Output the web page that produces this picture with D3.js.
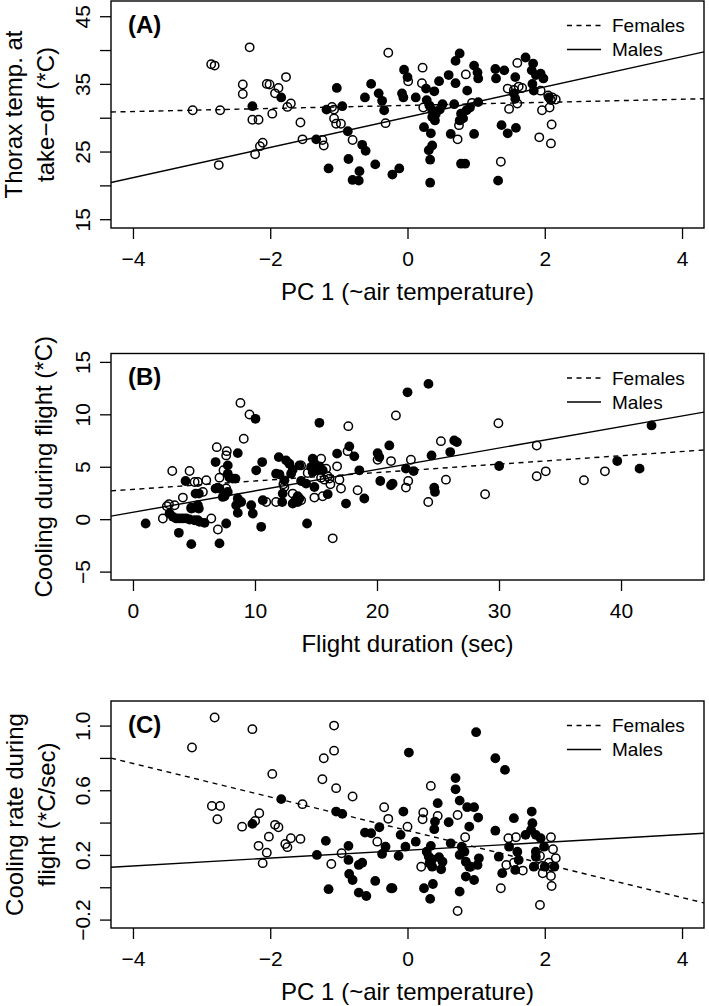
<!DOCTYPE html>
<html><head><meta charset="utf-8">
<script src="https://cdn.jsdelivr.net/npm/d3@7"></script>
<style>
body{margin:0;background:#fff}
svg{display:block;background:#fff}
text{font-family:"Liberation Sans",Arial,Helvetica,sans-serif;fill:#000}
</style>
</head><body>
<svg id="c" width="709" height="1006"></svg>
<script>
// ---------------- DATA ----------------
// Panel A: PC1 (~air temperature) vs thorax temperature at take-off (°C)
const femalesA = [[-3.13,31.1],[-2.86,37.9],[-2.81,37.7],[-2.75,23.0],[-2.73,31.1],[-2.30,40.4],[-2.40,34.9],[-2.40,33.5],[-2.26,29.7],[-2.17,29.7],[-2.22,24.6],[-2.15,25.8],[-2.11,26.3],[-2.05,35.0],[-2.01,34.9],[-1.97,30.6],[-1.93,33.6],[-1.88,34.4],[-1.77,36.0],[-1.75,31.6],[-1.70,32.1],[-1.56,29.3],[-1.53,26.8],[-1.24,26.7],[-1.22,25.9],[-1.10,31.6],[-1.07,31.2],[-1.07,29.9],[-1.04,29.1],[-0.97,29.1],[-0.80,26.7],[-0.32,29.2],[-0.28,39.6],[0.01,35.4],[0.22,37.4],[0.21,35.1],[0.23,31.5],[0.85,36.4],[0.94,32.2],[0.75,28.9],[0.73,26.8],[1.36,23.5],[1.60,38.1],[1.46,34.3],[1.55,34.1],[1.62,34.6],[1.67,34.4],[1.60,32.1],[1.48,31.3],[1.92,27.1],[2.09,26.2],[2.10,29.0],[1.96,31.1],[2.07,31.5],[2.05,33.3],[2.11,33.0],[2.16,32.7],[2.09,32.6],[1.94,34.0]];
const malesA = [[-2.26,31.7],[-1.84,33.0],[-1.33,26.8],[-1.18,31.2],[-1.03,34.4],[-0.95,31.7],[-0.87,28.0],[-1.15,22.5],[-0.86,23.9],[-0.80,20.8],[-0.71,20.7],[-0.70,22.1],[-0.66,26.0],[-0.61,25.1],[-0.47,23.1],[-0.53,35.0],[-0.62,33.0],[-0.42,33.6],[-0.37,32.5],[-0.34,31.1],[-0.22,21.6],[-0.12,22.5],[0.33,20.4],[0.33,23.8],[0.31,25.2],[0.36,25.9],[0.24,28.6],[0.34,27.7],[-0.05,37.1],[0.00,36.0],[-0.08,33.6],[-0.06,33.0],[0.12,33.0],[0.27,34.3],[0.39,33.9],[0.46,35.4],[0.28,32.6],[0.32,31.8],[0.36,31.1],[0.41,30.5],[0.36,30.1],[0.40,29.6],[0.47,31.2],[0.51,32.0],[0.60,36.3],[0.70,35.1],[0.76,39.5],[0.70,38.4],[0.87,34.0],[0.97,37.7],[1.02,36.7],[1.03,35.8],[0.68,32.0],[0.78,30.6],[0.81,29.9],[0.86,31.1],[0.91,31.5],[0.76,29.6],[1.03,32.3],[0.63,27.6],[0.97,27.6],[0.78,23.2],[0.84,23.2],[1.28,37.2],[1.29,35.8],[1.41,37.0],[1.57,36.0],[1.55,33.6],[1.57,32.8],[1.37,28.9],[1.46,27.7],[1.58,28.5],[1.32,20.7],[1.72,38.9],[1.83,38.0],[1.81,37.0],[1.87,36.3],[1.94,36.5],[1.98,35.8],[1.82,35.0],[1.84,34.0],[2.06,33.0]];
// fitted lines [intercept, slope]
const fitFemalesA = [31.82, 0.227];
const fitMalesA = [30.08, 2.236];

// Panel B: flight duration (sec) vs cooling during flight (°C)
const femalesB = [[8.81,11.09],[9.55,9.98],[9.08,7.67],[6.87,6.87],[7.69,6.49],[7.64,6.08],[3.22,4.59],[4.64,4.59],[5.05,3.55],[5.32,3.55],[6.01,3.71],[5.73,2.60],[7.09,3.96],[7.42,4.66],[7.64,2.92],[4.09,2.06],[2.78,1.24],[2.95,1.43],[3.41,1.33],[2.45,0.07],[4.78,1.02],[6.42,0.07],[6.96,-0.98],[10.92,1.64],[11.73,1.64],[12.33,3.33],[12.41,3.07],[13.09,2.44],[17.65,8.87],[21.55,9.89],[25.24,7.44],[17.59,6.49],[15.42,5.77],[13.78,5.13],[14.32,4.40],[15.83,4.82],[15.96,4.09],[16.73,5.04],[15.42,3.96],[15.69,3.77],[16.10,3.87],[16.92,3.77],[16.18,3.33],[17.05,2.92],[18.41,2.76],[14.87,2.06],[15.55,2.19],[13.78,1.81],[20.05,5.67],[21.15,5.54],[22.78,5.67],[22.56,3.64],[22.37,3.01],[25.65,3.77],[24.20,1.64],[16.37,-1.83],[29.95,9.15],[33.09,7.03],[33.09,4.09],[33.83,4.56],[36.96,3.71],[38.68,4.56],[28.86,2.38]];
const malesB = [[1.04,-0.41],[3.76,-1.30],[4.78,-2.38],[7.09,-2.31],[7.64,-0.41],[8.59,6.30],[10.04,9.57],[6.77,5.45],[7.77,5.13],[4.31,3.64],[5.40,2.44],[5.13,2.44],[6.77,2.92],[7.09,2.92],[7.91,3.96],[8.18,3.87],[8.40,3.87],[7.77,4.34],[7.36,2.12],[7.50,2.19],[7.77,2.60],[3.00,0.54],[3.28,0.22],[3.55,0.07],[3.82,0.07],[4.09,0.07],[4.37,0.07],[4.64,-0.03],[5.05,-0.10],[5.32,-0.10],[5.46,-0.26],[5.87,-0.35],[4.78,1.11],[5.05,1.11],[5.32,1.33],[5.40,1.02],[8.59,1.97],[8.87,1.64],[8.46,1.33],[8.59,0.60],[9.69,1.33],[9.82,0.54],[10.51,-0.73],[10.64,1.81],[10.10,4.66],[10.59,5.45],[11.95,5.92],[12.55,5.61],[12.82,5.29],[13.09,4.72],[12.96,4.34],[11.73,4.34],[12.00,4.28],[12.41,3.71],[12.27,2.44],[12.23,1.64],[13.09,1.49],[13.31,1.81],[22.50,12.10],[15.28,9.19],[17.73,6.94],[18.14,5.99],[16.73,6.25],[13.64,5.13],[14.73,5.77],[14.87,5.29],[14.60,4.97],[15.01,4.72],[15.28,5.04],[15.55,4.66],[14.73,4.50],[15.14,4.66],[13.78,3.64],[14.19,3.39],[14.87,3.07],[13.50,2.19],[13.64,1.97],[13.50,1.64],[15.96,2.38],[17.46,1.49],[18.96,1.97],[18.55,4.66],[20.05,6.30],[20.19,5.92],[21.01,7.03],[20.27,3.64],[21.15,3.23],[21.28,3.39],[22.37,4.82],[23.00,4.59],[24.47,6.08],[24.69,3.01],[24.75,2.60],[26.00,6.40],[26.33,7.51],[26.55,7.35],[14.27,-0.41],[24.22,12.90],[30.01,5.07],[39.69,5.54],[41.52,4.82],[42.50,8.94]];
const fitFemalesB = [2.84, 0.0803];
const fitMalesB = [0.66, 0.204];

// Panel C: PC1 (~air temperature) vs cooling rate during flight (°C/sec)
const femalesC = [[-3.14,0.864],[-2.81,1.050],[-2.85,0.503],[-2.73,0.503],[-2.77,0.421],[-2.26,0.978],[-1.97,0.701],[-2.16,0.458],[-2.22,0.410],[-2.41,0.375],[-2.02,0.313],[-1.93,0.386],[-1.88,0.371],[-2.17,0.256],[-2.05,0.214],[-2.11,0.149],[-1.70,0.303],[-1.56,0.299],[-1.78,0.268],[-1.75,0.248],[-1.53,0.514],[-1.07,1.000],[-1.07,0.845],[-1.22,0.798],[-1.24,0.668],[-1.04,0.613],[-0.80,0.561],[-0.96,0.210],[-1.11,0.144],[-0.34,0.495],[-0.28,0.423],[-0.44,0.282],[0.34,0.627],[0.00,0.375],[0.23,0.462],[0.22,0.421],[0.44,0.441],[0.73,0.447],[0.84,0.309],[0.20,0.127],[0.92,0.127],[0.73,-0.147],[1.36,-0.006],[1.47,0.303],[1.58,0.309],[1.44,0.138],[1.55,0.152],[1.68,0.103],[1.93,-0.110],[2.09,0.309],[2.12,0.235],[2.16,0.179],[1.93,0.194],[1.96,0.132],[2.06,0.152],[2.10,0.127],[1.97,0.087],[2.09,0.070],[2.10,0.008]];
const malesC = [[-1.84,0.545],[-2.26,0.392],[-1.04,0.468],[-0.95,0.454],[-1.19,0.287],[-1.32,0.200],[-0.86,0.256],[-0.86,0.169],[-0.71,0.138],[-0.66,0.152],[-0.85,0.082],[-0.80,0.045],[-1.15,-0.012],[-0.71,-0.033],[-0.60,-0.054],[-0.47,0.039],[-0.24,-0.006],[-0.62,0.338],[-0.53,0.334],[-0.41,0.371],[-0.32,0.251],[-0.37,0.206],[1.00,0.959],[0.02,0.833],[1.28,0.798],[1.42,0.726],[0.70,0.675],[0.70,0.606],[0.44,0.520],[0.76,0.536],[0.87,0.495],[0.97,0.495],[1.03,0.431],[-0.06,0.468],[-0.10,0.324],[0.40,0.406],[0.39,0.359],[0.60,0.402],[0.90,0.375],[0.12,0.282],[-0.03,0.251],[0.63,0.272],[0.34,0.256],[0.28,0.220],[0.31,0.189],[0.36,0.173],[0.32,0.149],[0.36,0.127],[0.46,0.186],[0.51,0.158],[0.49,0.111],[0.79,0.251],[0.76,0.200],[0.83,0.220],[0.85,0.158],[0.90,0.127],[1.04,0.179],[1.02,0.138],[-0.13,0.194],[-0.22,-0.006],[0.24,-0.006],[0.37,0.020],[0.33,-0.072],[0.76,-0.027],[0.85,0.066],[0.97,0.045],[1.28,0.350],[1.55,0.427],[1.33,0.189],[1.38,0.087],[1.48,0.251],[1.60,0.220],[1.62,0.169],[1.57,0.107],[1.72,0.324],[1.80,0.355],[1.82,0.396],[1.81,0.468],[1.87,0.324],[1.94,0.303],[1.99,0.251],[1.87,0.220],[1.87,0.189],[1.84,0.127],[2.00,0.127],[2.14,0.127]];
const fitFemalesC = [0.351, -0.1037];
const fitMalesC = [0.229, 0.0243];

// axes: domains, ticks, labelled ticks
const xDomainPC = [-4.32, 4.32];
const xTicksPC = [-4, -2, 0, 2, 4];
const yDomainA = [13.7, 47.25];
const yTicksA = [15, 20, 25, 30, 35, 40, 45];
const yLabelsA = [15, 25, 35, 45];
const xDomainB = [-1.8, 46.8];
const xTicksB = [0, 10, 20, 30, 40];
const yDomainB = [-5.8, 15.8];
const yTicksB = [-5, 0, 5, 10, 15];
const yLabelsB = [-5, 0, 5, 10, 15];
const yDomainC = [-0.252, 1.152];
const yTicksC = [-0.2, 0, 0.2, 0.4, 0.6, 0.8, 1.0];
const yLabelsC = [-0.2, 0.2, 0.6, 1.0];

const legendLabels = ["Females", "Males"];
const panelTags = ["(A)", "(B)", "(C)"];

// ---------------- DRAW ----------------
const svg = d3.select("#c");
svg.append("rect").attr("width", 709).attr("height", 1006).attr("fill", "#fff");

const L = 111, R = 704;

function drawPanel(o) {
  const g = svg.append("g");
  const x = d3.scaleLinear().domain(o.xDomain).range([L, R]);
  const y = d3.scaleLinear().domain(o.yDomain).range([o.bottom, o.top]);
  const clipId = "clip" + o.id;
  svg.append("clipPath").attr("id", clipId).append("rect")
    .attr("x", L).attr("y", o.top).attr("width", R - L).attr("height", o.bottom - o.top);

  const pts = g.append("g").attr("clip-path", `url(#${clipId})`);
  pts.selectAll("circle.f").data(o.females).join("circle")
    .attr("class", "f").attr("cx", d => x(d[0])).attr("cy", d => y(d[1])).attr("r", 4.2)
    .attr("fill", "none").attr("stroke", "#000").attr("stroke-width", 1.5);
  pts.selectAll("circle.m").data(o.males).join("circle")
    .attr("class", "m").attr("cx", d => x(d[0])).attr("cy", d => y(d[1])).attr("r", 4.9)
    .attr("fill", "#000");

  const line = d3.line().x(d => x(d[0])).y(d => y(d[1]));
  const fitPts = f => o.xDomain.map(v => [v, f[0] + f[1] * v]);
  pts.append("path").attr("d", line(fitPts(o.fitF))).attr("fill", "none")
    .attr("stroke", "#000").attr("stroke-width", 1.4).attr("stroke-dasharray", "5,4.5");
  pts.append("path").attr("d", line(fitPts(o.fitM))).attr("fill", "none")
    .attr("stroke", "#000").attr("stroke-width", 1.4);

  // box
  g.append("rect").attr("x", L).attr("y", o.top).attr("width", R - L).attr("height", o.bottom - o.top)
    .attr("fill", "none").attr("stroke", "#000").attr("stroke-width", 1.4);

  // x axis
  const xa = g.append("g").attr("transform", `translate(0,${o.bottom})`)
    .call(d3.axisBottom(x).tickValues(o.xTicks).tickSize(11).tickFormat(o.xFmt));
  xa.select(".domain").remove();
  xa.selectAll("line").attr("stroke", "#000").attr("stroke-width", 1.3);
  xa.selectAll("text").attr("y", 30).attr("dy", "0.36em")
    .attr("font-size", 21).attr("font-family", '"Liberation Sans",Arial,sans-serif').attr("fill", "#000");

  // y axis
  const ya = g.append("g").attr("transform", `translate(${L},0)`)
    .call(d3.axisLeft(y).tickValues(o.yTicks).tickSize(11)
      .tickFormat(v => o.yLabels.some(l => Math.abs(l - v) < 1e-9) ? o.yFmt(v) : ""));
  ya.select(".domain").remove();
  ya.selectAll("line").attr("stroke", "#000").attr("stroke-width", 1.3);
  ya.selectAll("text").attr("x", null).attr("y", null).attr("dy", "0.36em")
    .attr("transform", "translate(-29,0) rotate(-90)").attr("text-anchor", "middle")
    .attr("font-size", 21).attr("font-family", '"Liberation Sans",Arial,sans-serif').attr("fill", "#000");

  // x title
  g.append("text").attr("x", (L + R) / 2).attr("y", o.bottom + 63).attr("dy", "0.36em")
    .attr("text-anchor", "middle").attr("font-size", 24).text(o.xTitle);

  // y title (one or two lines)
  o.yTitle.forEach((t, i) => {
    g.append("text").attr("transform", `translate(${o.yTitleX[i]},${(o.top + o.bottom) / 2}) rotate(-90)`)
      .attr("dy", "0.36em").attr("text-anchor", "middle").attr("font-size", 24).text(t);
  });

  // panel tag
  g.append("text").attr("x", L + 17).attr("y", o.top + 23).attr("dy", "0.36em")
    .attr("font-size", 24).attr("font-weight", "bold").text(o.tag);

  // legend
  const lg = g.append("g");
  legendLabels.forEach((lab, i) => {
    const yy = o.top + 24.5 + i * 24;
    lg.append("line").attr("x1", L + 456).attr("x2", L + 490).attr("y1", yy).attr("y2", yy)
      .attr("stroke", "#000").attr("stroke-width", 1.4)
      .attr("stroke-dasharray", i === 0 ? "5,4.5" : null);
    lg.append("text").attr("x", L + 501).attr("y", yy).attr("dy", "0.36em")
      .attr("font-size", 19).text(lab);
  });
}

const fmtInt = d3.format("d");
const fmt1 = d3.format(".1f");

drawPanel({
  id: "A", top: 1, bottom: 228, xDomain: xDomainPC, yDomain: yDomainA,
  females: femalesA, males: malesA, fitF: fitFemalesA, fitM: fitMalesA,
  xTicks: xTicksPC, yTicks: yTicksA, yLabels: yLabelsA, xFmt: fmtInt, yFmt: fmtInt,
  xTitle: "PC 1 (~air temperature)", yTitle: ["Thorax temp. at", "take\u2212off (*C)"],
  yTitleX: [13.5, 45.5], tag: panelTags[0]
});
drawPanel({
  id: "B", top: 353.5, bottom: 580, xDomain: xDomainB, yDomain: yDomainB,
  females: femalesB, males: malesB, fitF: fitFemalesB, fitM: fitMalesB,
  xTicks: xTicksB, yTicks: yTicksB, yLabels: yLabelsB, xFmt: fmtInt, yFmt: fmtInt,
  xTitle: "Flight duration (sec)", yTitle: ["Cooling during flight (*C)"],
  yTitleX: [43], tag: panelTags[1]
});
drawPanel({
  id: "C", top: 701, bottom: 928, xDomain: xDomainPC, yDomain: yDomainC,
  females: femalesC, males: malesC, fitF: fitFemalesC, fitM: fitMalesC,
  xTicks: xTicksPC, yTicks: yTicksC, yLabels: yLabelsC, xFmt: fmtInt, yFmt: fmt1,
  xTitle: "PC 1 (~air temperature)", yTitle: ["Cooling rate during", "flight (*C/sec)"],
  yTitleX: [14.5, 46], tag: panelTags[2]
});
</script>
</body></html>
